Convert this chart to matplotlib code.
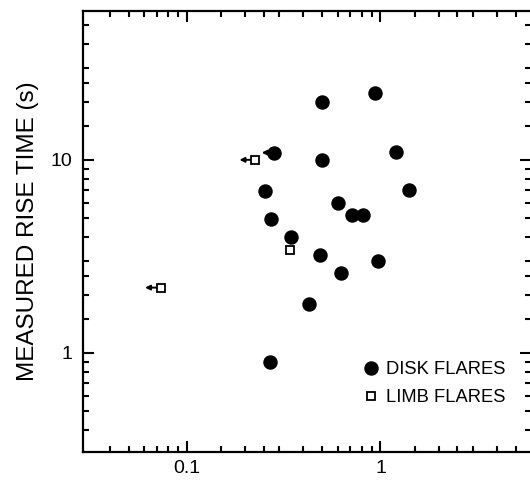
import numpy as np
import matplotlib
matplotlib.use("Agg")
import matplotlib.pyplot as plt
from matplotlib.ticker import FixedLocator, NullFormatter

plt.rcParams["font.family"] = ["Liberation Sans", "DejaVu Sans"]

# Disk flares (filled circles)
disk_x = [0.94, 0.50, 0.283, 0.50, 1.20, 0.253, 1.40, 0.60, 0.71, 0.815,
          0.271, 0.343, 0.487, 0.974, 0.625, 0.429, 0.269]
disk_y = [22.1, 20.0, 10.9, 10.0, 11.0, 6.9, 7.0, 6.0, 5.2, 5.2,
          4.95, 3.98, 3.22, 3.0, 2.61, 1.79, 0.895]
disk_limit = [False, False, True, False, False, False, False, False, False, False,
              False, False, False, False, False, False, False]

# Limb flares (open squares)
limb_x = [0.225, 0.341, 0.0731]
limb_y = [10.0, 3.42, 2.18]
limb_limit = [True, False, True]

xmajor = [0.1, 1]
ymajor = [1, 10]
xminor = [0.04, 0.05, 0.06, 0.07, 0.08, 0.09, 0.15, 0.2, 0.25,
          0.3, 0.4, 0.5, 0.6, 0.7, 0.8, 0.9, 1.5, 2, 2.5, 3, 4, 5]
yminor = [0.4, 0.5, 0.6, 0.7, 0.8, 0.9, 1.5, 2, 2.5,
          3, 4, 5, 6, 7, 8, 9, 15, 20, 25, 30, 40, 50]

fig = plt.figure(figsize=(5.3, 4.8), dpi=100)
ax = fig.add_axes([83 / 530, 28 / 480, 448 / 530, 441 / 480])

ax.plot(disk_x, disk_y, "o", color="black", markersize=9.4, linestyle="none",
        label="DISK FLARES", zorder=3)
ax.plot(limb_x, limb_y, "s", markerfacecolor="white", markeredgecolor="black",
        markeredgewidth=1.3, markersize=6.2, linestyle="none",
        label="LIMB FLARES", zorder=3)

# upper-limit arrows pointing left
arrow_kw = dict(arrowstyle="-|>", color="black", lw=1.4, mutation_scale=7,
                shrinkB=0)
for x, y, lim in zip(disk_x, disk_y, disk_limit):
    if lim:
        ax.annotate("", xy=(x * 0.86, y), xytext=(x, y),
                    arrowprops=dict(arrow_kw, shrinkA=5))
for x, y, lim in zip(limb_x, limb_y, limb_limit):
    if lim:
        ax.annotate("", xy=(x * 0.83, y), xytext=(x, y),
                    arrowprops=dict(arrow_kw, shrinkA=3.5))

ax.set_xscale("log")
ax.set_yscale("log")
ax.set_xlim(0.029, 6.0)
ax.set_ylim(0.307, 59)

ax.xaxis.set_major_locator(FixedLocator(xmajor))
ax.yaxis.set_major_locator(FixedLocator(ymajor))
ax.xaxis.set_minor_locator(FixedLocator(xminor))
ax.yaxis.set_minor_locator(FixedLocator(yminor))
ax.xaxis.set_minor_formatter(NullFormatter())
ax.yaxis.set_minor_formatter(NullFormatter())
ax.set_xticklabels(["0.1", "1"])
ax.set_yticklabels(["1", "10"])

ax.tick_params(which="both", direction="in", top=True, right=True,
               width=1.5, labelsize=14)
ax.tick_params(which="major", length=8)
ax.tick_params(which="minor", length=4)
ax.tick_params(axis="y", which="major", pad=8)
ax.tick_params(axis="x", which="major", pad=6)
for s in ax.spines.values():
    s.set_linewidth(1.6)

ax.set_ylabel("MEASURED RISE TIME (s)", fontsize=17.5, labelpad=8)

ax.legend(loc="upper left", bbox_to_anchor=((364 - 83) / 448, (452 - 361) / 441),
          frameon=False, fontsize=13.2, handlelength=0.8, handletextpad=0.4,
          labelspacing=0.6, borderpad=0, borderaxespad=0, numpoints=1)

fig.savefig("out.png", dpi=100)
